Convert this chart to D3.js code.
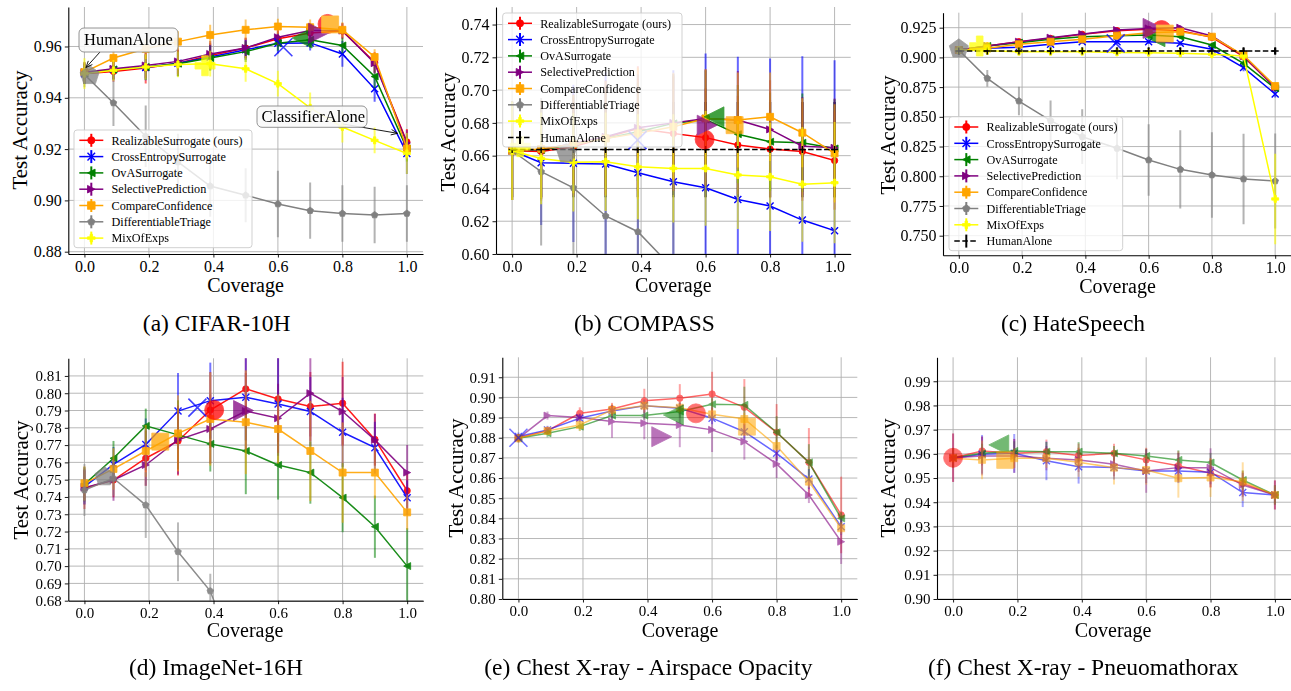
<!DOCTYPE html>
<html><head><meta charset="utf-8">
<script src="https://cdn.jsdelivr.net/npm/d3@7"></script>
<style>
body{margin:0;background:#fff;}
svg{display:block;font-family:"Liberation Serif","DejaVu Serif",serif;}
</style></head><body>
<svg id="c" width="1291" height="691"></svg>
<script>
// ---------------- DATA ----------------
const coverage = [0, 0.09, 0.19, 0.29, 0.39, 0.5, 0.6, 0.7, 0.8, 0.9, 1.0];
const methods = ["RealizableSurrogate (ours)", "CrossEntropySurrogate", "OvASurrogate", "SelectivePrediction", "CompareConfidence", "DifferentiableTriage", "MixOfExps"];
const colors = ["#ff0000", "#0000ff", "#008000", "#800080", "#ffa500", "#808080", "#ffff00"];
const markerTypes = ["circle", "x", "triLeft", "triRight", "square", "pentagon", "plus"];
const xTicks = [0, 0.2, 0.4, 0.6, 0.8, 1.0];

// (a) CIFAR-10H
const cifarTicks = [0.88, 0.90, 0.92, 0.94, 0.96];
const cifarAcc = [
  [0.9494,0.9503,0.9516,0.9535,0.9565,0.9594,0.9630,0.9653,0.9660,0.9539,0.9228],
  [0.9494,0.9510,0.9518,0.9535,0.9559,0.9587,0.9613,0.9614,0.9571,0.9435,0.9183],
  [0.9494,0.9510,0.9520,0.9533,0.9555,0.9580,0.9613,0.9626,0.9604,0.9483,0.9202],
  [0.9500,0.9513,0.9526,0.9542,0.9571,0.9594,0.9636,0.9662,0.9662,0.9535,0.9224],
  [0.9500,0.9555,0.9591,0.9619,0.9645,0.9665,0.9678,0.9675,0.9665,0.9559,0.9202],
  [0.9491,0.9380,0.9250,0.9150,0.9056,0.9020,0.8986,0.8960,0.8949,0.8943,0.8949],
  [0.9494,0.9507,0.9520,0.9530,0.9533,0.9513,0.9455,0.9361,0.9286,0.9234,0.9183]
];
const cifarErr = [
  [0.004,0.004,0.006,0.005,0.005,0.004,0.003,0.003,0.003,0.004,0.005],
  [0.004,0.004,0.005,0.005,0.005,0.004,0.004,0.003,0.005,0.005,0.008],
  [0.004,0.004,0.005,0.005,0.005,0.004,0.003,0.003,0.003,0.0045,0.005],
  [0.004,0.004,0.005,0.005,0.005,0.004,0.003,0.003,0.003,0.004,0.005],
  [0.004,0.003,0.004,0.004,0.004,0.004,0.003,0.003,0.003,0.003,0.004],
  [0.005,0.009,0.012,0.011,0.012,0.0105,0.013,0.011,0.011,0.011,0.011],
  [0.006,0.004,0.005,0.005,0.005,0.005,0.005,0.006,0.006,0.005,0.008]
];
const cifarLearned = [[0.754,0.9688],[0.617,0.9597],[0.675,0.9633],[0.726,0.9652],[0.762,0.9686],[0.016,0.9487],[0.374,0.9525]];

// (b) COMPASS
const compassTicks = [0.60, 0.62, 0.64, 0.66, 0.68, 0.70, 0.72, 0.74];
const compassAcc = [
  [0.663,0.6625,0.6655,0.671,0.6765,0.6735,0.671,0.6665,0.664,0.6625,0.657],
  [0.663,0.6557,0.6553,0.6549,0.6496,0.6441,0.6404,0.6333,0.6293,0.6207,0.6142],
  [0.663,0.6635,0.667,0.6705,0.6746,0.6797,0.6821,0.6731,0.6685,0.6679,0.6644],
  [0.663,0.6638,0.6675,0.6715,0.677,0.680,0.6827,0.6817,0.676,0.6658,0.6648],
  [0.663,0.664,0.667,0.6705,0.6736,0.6776,0.6827,0.6817,0.6837,0.674,0.6614],
  [0.663,0.6502,0.6404,0.6232,0.6136,0.591,null,null,null,null,null],
  [0.663,0.6583,0.6559,0.6563,0.6532,0.6522,0.6522,0.6482,0.6471,0.6425,0.6435]
];
const compassErr = [
  [0.03,0.03,0.03,0.035,0.038,0.035,0.03,0.03,0.03,0.03,0.03],
  [0.03,0.038,0.048,0.056,0.06,0.068,0.082,0.087,0.09,0.1,0.104],
  [0.03,0.03,0.03,0.03,0.03,0.03,0.03,0.03,0.03,0.03,0.03],
  [0.03,0.03,0.03,0.03,0.03,0.03,0.03,0.03,0.03,0.03,0.03],
  [0.03,0.03,0.03,0.035,0.04,0.033,0.03,0.029,0.027,0.021,0.03],
  [0.03,0.045,0.045,0.045,0.045,0.045,null,null,null,null,null],
  [0.03,0.028,0.03,0.03,0.032,0.033,0.035,0.033,0.033,0.035,0.037]
];
const compassLearned = [[0.597,0.6699],[0.389,0.6695],[0.626,0.6837],[0.605,0.6786],[0.69,0.6786],[0.168,0.6614],[0.025,0.6655]];
const compassHuman = 0.6637, compassHumanErr = 0.029;

// (c) HateSpeech
const hateTicks = [0.750, 0.775, 0.800, 0.825, 0.850, 0.875, 0.900, 0.925];
const hateAcc = [
  [0.9062,0.9096,0.9132,0.9160,0.9194,0.9225,0.9236,0.9225,0.9169,0.9006,0.8748],
  [0.9062,0.9076,0.9085,0.9110,0.9132,0.9132,0.9132,0.9118,0.9068,0.8914,0.8692],
  [0.9062,0.9096,0.9124,0.9152,0.9174,0.9183,0.9188,0.9174,0.9104,0.8950,0.8740],
  [0.9062,0.9096,0.9132,0.9166,0.9197,0.9230,0.9244,0.9250,0.9180,0.9012,0.8748],
  [0.9062,0.9076,0.9110,0.9132,0.9152,0.9183,0.9208,0.9216,0.9174,0.9020,0.8759],
  [0.9062,0.8824,0.8633,0.8468,0.8333,0.8235,0.8137,0.8058,0.8011,0.7977,0.7960],
  [0.9062,0.9056,0.9048,0.9048,0.9048,0.9042,0.9040,0.9034,0.9026,0.9012,0.7809]
];
const hateErr = [
  [0.002,0.002,0.002,0.002,0.002,0.002,0.002,0.002,0.002,0.003,0.003],
  [0.002,0.002,0.002,0.002,0.002,0.002,0.002,0.002,0.002,0.003,0.003],
  [0.002,0.002,0.002,0.002,0.002,0.002,0.002,0.002,0.002,0.003,0.003],
  [0.002,0.002,0.002,0.002,0.002,0.002,0.002,0.002,0.002,0.003,0.003],
  [0.002,0.002,0.002,0.002,0.002,0.002,0.002,0.002,0.002,0.003,0.003],
  [0.003,0.007,0.012,0.017,0.023,0.026,0.030,0.033,0.036,0.038,0.040],
  [0.002,0.002,0.002,0.002,0.002,0.002,0.002,0.002,0.002,0.003,0.038]
];
const hateLearned = [[0.641,0.923],[0.496,0.9118],[0.62,0.9174],[0.614,0.9244],[0.651,0.920],[0.0,0.9072],[0.066,0.9096]];
const hateHuman = 0.9054, hateHumanErr = 0.003;

// (d) ImageNet-16H
const imagenetTicks = [0.68,0.69,0.70,0.71,0.72,0.73,0.74,0.75,0.76,0.77,0.78,0.79,0.80,0.81];
const imagenetAcc = [
  [0.745,0.7498,0.7624,0.7724,0.7903,0.8025,0.7967,0.7923,0.7942,0.7733,0.7436],
  [0.746,0.7589,0.7704,0.7897,0.7957,0.7977,0.7938,0.7894,0.7774,0.7685,0.7396],
  [0.7473,0.7624,0.7811,0.7759,0.7707,0.7666,0.7585,0.7541,0.7396,0.7228,0.700],
  [0.7454,0.7498,0.7585,0.773,0.7793,0.7897,0.7855,0.800,0.7894,0.773,0.7541],
  [0.7479,0.7562,0.7666,0.7768,0.7851,0.7832,0.7793,0.7666,0.7541,0.7541,0.7311],
  [0.744,0.7508,0.7353,0.7083,0.6856,0.630,null,null,null,null,null],
  null
];
const imagenetErr = [
  [0.012,0.010,0.016,0.020,0.022,0.022,0.025,0.020,0.024,0.015,0.010],
  [0.010,0.010,0.015,0.022,0.022,0.025,0.030,0.020,0.020,0.015,0.010],
  [0.010,0.010,0.010,0.020,0.016,0.025,0.020,0.018,0.020,0.018,0.022],
  [0.010,0.012,0.012,0.020,0.020,0.022,0.020,0.025,0.020,0.015,0.016],
  [0.010,0.012,0.015,0.022,0.027,0.030,0.020,0.029,0.029,0.015,0.010],
  [0.015,0.010,0.019,0.017,0.010,0.010,null,null,null,null,null],
  null
];
const imagenetLearned = [[0.402,0.7903],[0.35,0.7917],null,[0.493,0.790],[0.235,0.772],[0.062,0.7517],null];

// (e) Chest X-ray - Airspace Opacity
const airTicks = [0.80,0.81,0.82,0.83,0.84,0.85,0.86,0.87,0.88,0.89,0.90,0.91];
const airAcc = [
  [0.880,0.8835,0.8921,0.8943,0.8983,0.8996,0.9017,0.8951,0.8827,0.8678,0.8417],
  [0.8806,0.8839,0.8897,0.8933,0.8959,0.8946,0.8897,0.883,0.8723,0.8595,0.8359],
  [0.8797,0.8822,0.8855,0.891,0.891,0.893,0.8966,0.8963,0.8827,0.8678,0.840],
  [0.8797,0.891,0.890,0.888,0.8872,0.8863,0.8839,0.8781,0.867,0.8516,0.8284],
  [0.8797,0.8834,0.8863,0.8938,0.8959,0.8949,0.8916,0.8893,0.8759,0.8582,0.8351],
  null, null
];
const airErr = [
  [0.002,0.002,0.003,0.003,0.006,0.007,0.011,0.014,0.014,0.017,0.019],
  [0.002,0.002,0.002,0.003,0.003,0.003,0.003,0.004,0.004,0.005,0.004],
  [0.002,0.002,0.002,0.002,0.002,0.003,0.003,0.009,0.008,0.009,0.003],
  [0.002,0.002,0.002,0.008,0.008,0.011,0.011,0.009,0.007,0.004,0.011],
  [0.002,0.002,0.003,0.003,0.003,0.003,0.003,0.003,0.003,0.003,0.003],
  null, null
];
const airLearned = [[0.55,0.8921],[0.0,0.880],[0.48,0.8913],[0.444,0.8805],[0.708,0.8855],null,null];

// (f) Chest X-ray - Pneuomathorax
const pneuTicks = [0.90,0.91,0.92,0.93,0.94,0.95,0.96,0.97,0.98,0.99];
const pneuAcc = [
  [0.9584,0.9612,0.9602,0.9609,0.9593,0.9602,0.9575,0.9551,0.9520,0.9478,0.9430],
  [0.9582,0.9598,0.9602,0.9571,0.9547,0.9544,0.9529,0.9529,0.9524,0.9440,0.9430],
  [0.9584,0.9602,0.9612,0.9609,0.9609,0.9602,0.9591,0.9575,0.9564,0.9492,0.9430],
  [0.9584,0.9591,0.9591,0.9582,0.9575,0.9557,0.9529,0.9543,0.9543,0.9471,0.9430],
  [0.9582,0.9575,0.9582,0.9582,0.9565,0.9543,0.9533,0.9499,0.9502,0.9485,0.9430],
  null, null
];
const pneuErr = [
  [0.010,0.006,0.006,0.005,0.005,0.004,0.005,0.006,0.006,0.005,0.006],
  [0.004,0.008,0.008,0.008,0.007,0.005,0.005,0.005,0.005,0.006,0.004],
  [0.004,0.004,0.004,0.004,0.004,0.003,0.003,0.004,0.004,0.004,0.004],
  [0.010,0.008,0.007,0.005,0.005,0.005,0.009,0.006,0.008,0.005,0.006],
  [0.004,0.008,0.004,0.004,0.006,0.007,0.006,0.008,0.008,0.008,0.004],
  null, null
];
const pneuLearned = [[0.0,0.9584],null,[0.142,0.9637],null,[0.162,0.9575],null,null];

// ---------------- LAYOUT ----------------
const panels = [
  {id:"a", acc:cifarAcc, err:cifarErr, learned:cifarLearned, ticks:cifarTicks, fmt:".2f",
   x0:68.3, x1:423, top:7, bottom:254, yDom:[0.8791,0.9754], tickFont:16,
   ylab:[27,130], xlab:[245.5,292], cap:[216.7,330.5,"(a) CIFAR-10H"],
   legend:{x:74, y:130, w:178}, lineAlpha:1, errAlpha:0.6, bigAlpha:0.75},
  {id:"b", acc:compassAcc, err:compassErr, learned:compassLearned, ticks:compassTicks, fmt:".2f",
   x0:496, x1:850.7, top:7, bottom:254, yDom:[0.60,0.7507], tickFont:16,
   ylab:[455,132], xlab:[673.3,292], cap:[644.5,330.5,"(b) COMPASS"],
   legend:{x:502.7, y:13, w:179.3}, human:[compassHuman,compassHumanErr], lineAlpha:1, errAlpha:0.6, bigAlpha:0.75},
  {id:"c", acc:hateAcc, err:hateErr, learned:hateLearned, ticks:hateTicks, fmt:".3f",
   x0:943, x1:1291, top:12.7, bottom:255.3, yDom:[0.7335,0.9376], tickFont:16,
   ylab:[895,135], xlab:[1117.5,292.5], cap:[1073,330.5,"(c) HateSpeech"],
   legend:{x:949, y:116.7, w:173.7}, human:[hateHuman,hateHumanErr], lineAlpha:1, errAlpha:0.6, bigAlpha:0.75},
  {id:"d", acc:imagenetAcc, err:imagenetErr, learned:imagenetLearned, ticks:imagenetTicks, fmt:".2f",
   x0:68.3, x1:423.3, top:358.3, bottom:600.7, yDom:[0.68,0.8202], tickFont:15,
   ylab:[28,480], xlab:[245,636.5], cap:[216,675,"(d) ImageNet-16H"],
   lineAlpha:0.9, errAlpha:0.6, bigAlpha:0.75},
  {id:"e", acc:airAcc, err:airErr, learned:airLearned, ticks:airTicks, fmt:".2f",
   x0:502.3, x1:857.3, top:357.3, bottom:599, yDom:[0.80,0.9199], tickFont:15,
   ylab:[463,478], xlab:[680,637], cap:[648.3,675,"(e) Chest X-ray - Airspace Opacity"],
   lineAlpha:0.6, errAlpha:0.6, bigAlpha:0.55},
  {id:"f", acc:pneuAcc, err:pneuErr, learned:pneuLearned, ticks:pneuTicks, fmt:".2f",
   x0:937, x1:1291, top:357.3, bottom:599, yDom:[0.90,0.9999], tickFont:15,
   ylab:[895,478], xlab:[1113,637], cap:[1083.3,675,"(f) Chest X-ray - Pneuomathorax"],
   lineAlpha:0.6, errAlpha:0.6, bigAlpha:0.55}
];

// ---------------- DRAW ----------------
const svg = d3.select("#c");
const defs = svg.append("defs");

function markerPath(type, r) {
  switch (type) {
    case "circle": return d3.symbol(d3.symbolCircle, Math.PI * r * r)();
    case "square": return d3.symbol(d3.symbolSquare, 4 * r * r)();
    case "plus": return d3.symbol(d3.symbolCross, 5 * Math.pow(2 * r / 3, 2))();
    case "x": return `M${-r},${-r}L${r},${r}M${-r},${r}L${r},${-r}`;
    case "triLeft": return `M${-r},0L${r},${-r}L${r},${r}Z`;
    case "triRight": return `M${r},0L${-r},${-r}L${-r},${r}Z`;
    case "pentagon": return "M" + d3.range(5).map(k => {
        const a = -Math.PI / 2 + k * 2 * Math.PI / 5;
        return [r * Math.cos(a), r * Math.sin(a)].join(",");
      }).join("L") + "Z";
    case "hplus": return `M${-r},0L${r},0M0,${-r}L0,${r}`;
  }
}
function drawMarker(sel, type, color, r, cx, cy, sw) {
  const stroked = (type === "x" || type === "hplus");
  sel.append("path").attr("d", markerPath(type, r))
    .attr("transform", `translate(${cx},${cy})`)
    .attr("fill", stroked ? "none" : color)
    .attr("stroke", color).attr("stroke-width", stroked ? (sw || 1.4) : 0.8);
}

panels.forEach(p => {
  const g = svg.append("g");
  const x = d3.scaleLinear().domain([-0.05, 1.05]).range([p.x0, p.x1]);
  const y = d3.scaleLinear().domain(p.yDom).range([p.bottom, p.top]);
  const clipId = "clip-" + p.id;
  defs.append("clipPath").attr("id", clipId).append("rect")
    .attr("x", p.x0).attr("y", p.top).attr("width", p.x1 - p.x0).attr("height", p.bottom - p.top);

  // grid
  const grid = g.append("g").attr("stroke", "#b0b0b0").attr("stroke-width", 0.9);
  grid.selectAll("line.h").data(p.ticks).join("line")
    .attr("x1", p.x0).attr("x2", p.x1).attr("y1", d => y(d)).attr("y2", d => y(d));
  grid.selectAll("line.v").data(xTicks).join("line")
    .attr("y1", p.top).attr("y2", p.bottom).attr("x1", d => x(d)).attr("x2", d => x(d));

  const plot = g.append("g").attr("clip-path", `url(#${clipId})`);

  // human-alone error bars sit underneath the coloured series bars
  if (p.human) {
    const [hv, he] = p.human;
    plot.append("g").attr("stroke", "#000").attr("stroke-width", 2.2)
      .selectAll("line").data(coverage).join("line")
      .attr("x1", d => x(d)).attr("x2", d => x(d)).attr("y1", y(hv - he)).attr("y2", y(hv + he));
  }

  p.acc.forEach((vals, i) => {
    if (!vals) return;
    const err = p.err[i];
    const pts = coverage.map((c, k) => ({c, v: vals[k], e: err[k]}));
    const valid = pts.filter(d => d.v != null);
    const sg = plot.append("g").attr("opacity", p.lineAlpha);
    sg.append("g").attr("stroke", colors[i]).attr("stroke-width", 2).attr("stroke-opacity", p.errAlpha)
      .selectAll("line").data(valid.filter(d => d.e != null)).join("line")
      .attr("x1", d => x(d.c)).attr("x2", d => x(d.c))
      .attr("y1", d => y(d.v - d.e)).attr("y2", d => y(d.v + d.e));
    sg.append("path").datum(pts)
      .attr("d", d3.line().defined(d => d.v != null).x(d => x(d.c)).y(d => y(d.v)))
      .attr("fill", "none").attr("stroke", colors[i]).attr("stroke-width", 1.5);
    valid.forEach(d => drawMarker(sg, markerTypes[i], colors[i], markerTypes[i] === "circle" ? 3.2 : 3.5, x(d.c), y(d.v)));
  });

  if (p.human) {
    const [hv] = p.human;
    const hg = plot.append("g");
    hg.append("path").datum(coverage)
      .attr("d", d3.line().x(d => x(d)).y(() => y(hv)))
      .attr("fill", "none").attr("stroke", "#000").attr("stroke-width", 1.5).attr("stroke-dasharray", "5.5,2.5");
    coverage.forEach(c => drawMarker(hg, "hplus", "#000", 3.5, x(c), y(hv), 1.4));
  }

  // large learned-threshold markers
  const bg = plot.append("g").attr("opacity", p.bigAlpha);
  p.learned.forEach((pt, i) => {
    if (!pt || !p.acc[i]) return;
    const t = markerTypes[i];
    const r = t === "circle" ? 9.5 : t === "square" ? 8.5 : t === "x" ? 9 : 10;
    drawMarker(bg, t, colors[i], r, x(pt[0]), y(pt[1]), 1.6);
  });

  // axes
  const ay = g.append("g").attr("transform", `translate(${p.x0},0)`)
    .call(d3.axisLeft(y).tickValues(p.ticks).tickFormat(d3.format(p.fmt)).tickSize(3.5).tickSizeOuter(0).tickPadding(3));
  const ax = g.append("g").attr("transform", `translate(0,${p.bottom})`)
    .call(d3.axisBottom(x).tickValues(xTicks).tickFormat(d3.format(".1f")).tickSize(3.5).tickSizeOuter(0).tickPadding(3));
  [ay, ax].forEach(a => {
    a.attr("font-family", null).attr("font-size", null);
    a.selectAll("text").attr("font-size", p.tickFont).attr("fill", "#000");
    a.selectAll("line").attr("stroke", "#000").attr("stroke-width", 0.9);
    a.select(".domain").attr("stroke", "#000").attr("stroke-width", 1.1);
  });

  // labels
  g.append("text").attr("transform", `translate(${p.ylab[0]},${p.ylab[1]}) rotate(-90)`)
    .attr("text-anchor", "middle").attr("font-size", 21).text("Test Accuracy");
  g.append("text").attr("x", p.xlab[0]).attr("y", p.xlab[1])
    .attr("text-anchor", "middle").attr("font-size", 20).text("Coverage");
  g.append("text").attr("x", p.cap[0]).attr("y", p.cap[1])
    .attr("text-anchor", "middle").attr("font-size", 23.5).text(p.cap[2]);

  // legend
  if (p.legend) {
    const L = p.legend;
    const entries = methods.map((m, i) => i).filter(i => p.acc[i]);
    const n = entries.length + (p.human ? 1 : 0);
    const h = 10.3 + (n - 1) * 16.3 + 9.6;
    const lg = g.append("g");
    lg.append("rect").attr("x", L.x).attr("y", L.y).attr("width", L.w).attr("height", h).attr("rx", 3)
      .attr("fill", "#fff").attr("fill-opacity", 0.8).attr("stroke", "#cccccc").attr("stroke-width", 0.9);
    entries.forEach((i, k) => {
      const cy = L.y + 10.3 + k * 16.3, mx = L.x + 17.3;
      lg.append("line").attr("x1", L.x + 5.3).attr("x2", L.x + 29.3).attr("y1", cy).attr("y2", cy)
        .attr("stroke", colors[i]).attr("stroke-width", 1.5);
      lg.append("line").attr("x1", mx).attr("x2", mx).attr("y1", cy - 6.5).attr("y2", cy + 6.5)
        .attr("stroke", colors[i]).attr("stroke-width", 2);
      drawMarker(lg, markerTypes[i], colors[i], markerTypes[i] === "circle" ? 3.6 : 3.8, mx, cy);
      lg.append("text").attr("x", L.x + 37.5).attr("y", cy + 4.2).attr("font-size", 12.2).text(methods[i]);
    });
    if (p.human) {
      const cy = L.y + 10.3 + entries.length * 16.3, mx = L.x + 17.3;
      lg.append("line").attr("x1", L.x + 5.3).attr("x2", L.x + 29.3).attr("y1", cy).attr("y2", cy)
        .attr("stroke", "#000").attr("stroke-width", 1.5).attr("stroke-dasharray", "5.5,2.5");
      lg.append("line").attr("x1", mx).attr("x2", mx).attr("y1", cy - 6.5).attr("y2", cy + 6.5)
        .attr("stroke", "#000").attr("stroke-width", 2);
      lg.append("text").attr("x", L.x + 37.5).attr("y", cy + 4.2).attr("font-size", 12.2).text("HumanAlone");
    }
  }
});

// annotations on (a)
function arrow(x1, y1, x2, y2) {
  const a = svg.append("g").attr("stroke", "#000").attr("stroke-width", 0.9).attr("fill", "none");
  a.append("line").attr("x1", x1).attr("y1", y1).attr("x2", x2).attr("y2", y2);
  const ang = Math.atan2(y2 - y1, x2 - x1), L = 7, s = 0.4;
  a.append("path").attr("d",
    `M${x2 - L * Math.cos(ang - s)},${y2 - L * Math.sin(ang - s)}L${x2},${y2}L${x2 - L * Math.cos(ang + s)},${y2 - L * Math.sin(ang + s)}`);
}
function annBox(x, y, w, h, tx, ty, text) {
  svg.append("rect").attr("x", x).attr("y", y).attr("width", w).attr("height", h).attr("rx", 5)
    .attr("fill", "#fafafa").attr("fill-opacity", 0.9).attr("stroke", "#888").attr("stroke-width", 0.9);
  svg.append("text").attr("x", tx).attr("y", ty).attr("font-size", 16.5).text(text);
}
arrow(100, 52, 86, 67.5);
annBox(79, 28, 99, 24, 84, 45, "HumanAlone");
arrow(343, 124, 397.5, 133.3);
annBox(257, 106, 110, 21.3, 261.5, 122, "ClassifierAlone");
</script></body></html>
